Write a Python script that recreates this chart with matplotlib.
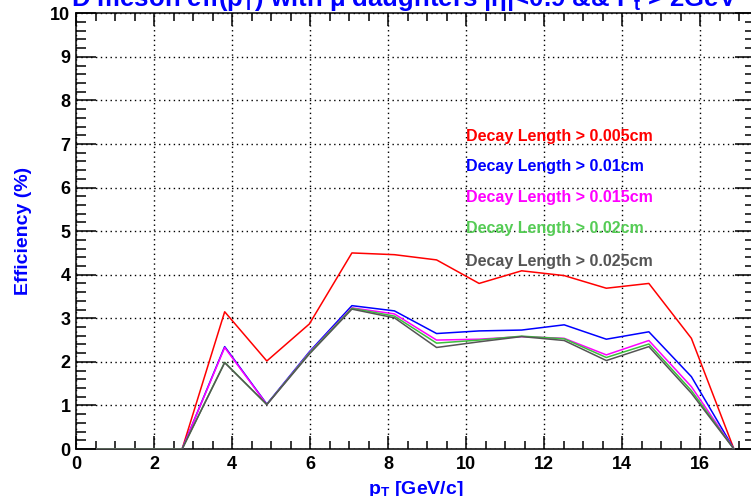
import matplotlib
matplotlib.use("Agg")
import matplotlib.pyplot as plt
from matplotlib.ticker import MultipleLocator

plt.rcParams['font.family'] = ['Liberation Sans', 'DejaVu Sans']
plt.rcParams['mathtext.fontset'] = 'custom'
plt.rcParams['mathtext.rm'] = 'Liberation Sans:bold'
plt.rcParams['mathtext.it'] = 'Liberation Sans:bold'
plt.rcParams['mathtext.bf'] = 'Liberation Sans:bold'

# ---- data ----
pt = [0.54, 1.63, 2.72, 3.81, 4.89, 5.98, 7.07, 8.16, 9.24, 10.33, 11.42, 12.51, 13.59, 14.68, 15.77, 16.86]
eff_005 = [0, 0, 0, 3.15, 2.02, 2.87, 4.50, 4.46, 4.34, 3.80, 4.09, 3.98, 3.69, 3.80, 2.54, 0]
eff_010 = [0, 0, 0, 2.35, 1.03, 2.23, 3.29, 3.17, 2.65, 2.71, 2.73, 2.85, 2.52, 2.69, 1.66, 0]
eff_015 = [0, 0, 0, 2.33, 1.02, 2.21, 3.24, 3.10, 2.50, 2.52, 2.58, 2.54, 2.16, 2.49, 1.43, 0]
eff_020 = [0, 0, 0, 1.99, 1.02, 2.20, 3.23, 3.05, 2.43, 2.50, 2.59, 2.53, 2.10, 2.41, 1.34, 0]
eff_025 = [0, 0, 0, 1.98, 1.02, 2.18, 3.21, 3.01, 2.33, 2.46, 2.58, 2.49, 2.03, 2.35, 1.28, 0]

labels = ["Decay Length > 0.005cm", "Decay Length > 0.01cm", "Decay Length > 0.015cm",
          "Decay Length > 0.02cm", "Decay Length > 0.025cm"]
series = [eff_005, eff_010, eff_015, eff_020, eff_025]
line_colors = ['#ff0000', '#0000ff', '#ff00ff', '#3cbf3c', '#555555']
text_colors = ['#ff0000', '#0000ff', '#ff00ff', '#55cc55', '#555555']

W, H = 751, 496
fig = plt.figure(figsize=(W / 100, H / 100), dpi=100)
ax = fig.add_axes([76 / W, 1 - 449 / H, (755 - 76) / W, (449 - 13.3) / H])

for ys, c in zip(series, line_colors):
    ax.plot(pt, ys, color=c, lw=1.1, zorder=3)

ax.set_xlim(0, 17.4)
ax.set_ylim(0, 10)
ax.xaxis.set_major_locator(MultipleLocator(2))
ax.xaxis.set_minor_locator(MultipleLocator(0.5))
ax.yaxis.set_major_locator(MultipleLocator(1))
ax.yaxis.set_minor_locator(MultipleLocator(0.2))

ax.grid(True, which='major', color='black', linestyle=(0, (1, 2.5)), lw=1.0)
ax.tick_params(axis='x', which='major', direction='in', length=9.4, width=1.1,
               top=True, bottom=True, labelsize=13, pad=5)
ax.tick_params(axis='x', which='minor', direction='in', length=5.8, width=1.1,
               top=True, bottom=True)
ax.tick_params(axis='y', which='major', direction='in', length=14.4, width=1.1,
               left=True, right=True, labelsize=13, pad=4)
ax.tick_params(axis='y', which='minor', direction='in', length=7.5, width=1.1,
               left=True, right=True)
for lab in ax.get_xticklabels() + ax.get_yticklabels():
    lab.set_fontweight('bold')
for s in ax.spines.values():
    s.set_linewidth(1.1)

ax.set_xlabel(r"p$_{T}$ [GeV/c]", color='#0000ff', fontsize=14, fontweight='bold', labelpad=4)
ax.set_ylabel("Efficiency (%)", color='#0000ff', fontsize=14, fontweight='bold', labelpad=13)

fig.text(404.5 / W, 1 - 6 / H, r"D meson eff(p$_{T}$) with $\mu$ daughters |$\eta$|<0.9 && P$_{t}$ > 2GeV",
         color='#0000ff', fontsize=18.5, fontweight='bold', ha='center', va='baseline')

ys_text = [136, 166.5, 197.5, 228.5, 261.5]
for lab, c, yp in zip(labels, text_colors, ys_text):
    fig.text(466 / W, 1 - yp / H, lab, color=c, fontsize=11.5, fontweight='bold',
             ha='left', va='center')

fig.savefig("out.png", dpi=100)
